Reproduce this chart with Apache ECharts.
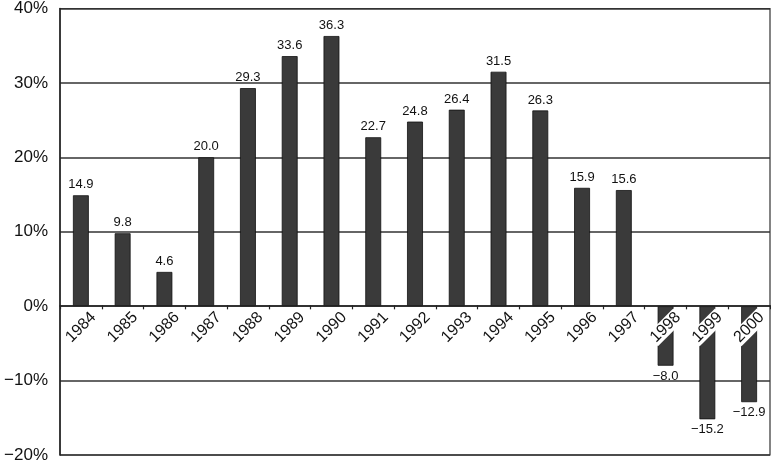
<!DOCTYPE html>
<html><head><meta charset="utf-8">
<script src="https://cdn.jsdelivr.net/npm/echarts@6/dist/echarts.min.js"></script>
<style>html,body{margin:0;padding:0;background:#fff}#c{width:771px;height:465px}</style>
</head><body><div id="c"></div>
<script>
const years = ['1984','1985','1986','1987','1988','1989','1990','1991','1992','1993','1994','1995','1996','1997','1998','1999','2000'];
const returns = [14.9, 9.8, 4.6, 20.0, 29.3, 33.6, 36.3, 22.7, 24.8, 26.4, 31.5, 26.3, 15.9, 15.6, -8.0, -15.2, -12.9];
const yMin = -20, yMax = 40, yStep = 10;

const fmtNum = v => (v < 0 ? '\u2212' : '') + Math.abs(v).toFixed(1);
const fmtPct = v => (v < 0 ? '\u2212' : '') + Math.abs(v) + '%';

const W = 771, H = 465, gTop = 6, gBottom = 10;
const plotH = H - gTop - gBottom;
const zeroFromBottom = plotH * (0 - yMin) / (yMax - yMin);

const chart = echarts.init(document.getElementById('c'), null, {renderer: 'canvas'});
chart.setOption({
  animation: false,
  backgroundColor: '#fff',
  grid: {left: 60, right: 1, top: gTop, bottom: gBottom, show: true, borderColor: '#333', borderWidth: 1.2, backgroundColor: 'transparent'},
  xAxis: {
    type: 'category',
    data: years,
    z: 10,
    position: 'bottom',
    offset: -zeroFromBottom,
    axisLine: {onZero: false, lineStyle: {color: '#222', width: 1.5}},
    axisTick: {show: true, length: 4, lineStyle: {color: '#222', width: 1.2}},
    axisLabel: {
      rotate: 45, margin: 22, align: 'center', verticalAlign: 'middle',
      fontFamily: 'Liberation Sans, Arial, sans-serif', fontSize: 16, color: '#111',
      backgroundColor: '#fff', padding: [0, 1], interval: 0
    }
  },
  yAxis: {
    type: 'value', min: yMin, max: yMax, interval: yStep,
    axisLine: {show: true, lineStyle: {color: '#222', width: 1.5}},
    axisTick: {show: false},
    splitLine: {lineStyle: {color: '#333', width: 1.5}},
    axisLabel: {
      formatter: fmtPct, margin: 12,
      fontFamily: 'Liberation Sans, Arial, sans-serif', fontSize: 17, color: '#111'
    }
  },
  series: [{
    type: 'bar',
    data: returns.map(v => ({value: v, label: {position: v < 0 ? 'bottom' : 'top'}})),
    barWidth: '38%',
    itemStyle: {color: '#3a3a3a', borderColor: '#111', borderWidth: 0.8},
    label: {
      show: true, distance: 4,
      formatter: p => fmtNum(p.value),
      fontFamily: 'Liberation Sans, Arial, sans-serif', fontSize: 13, color: '#111'
    }
  }]
});
</script></body></html>
